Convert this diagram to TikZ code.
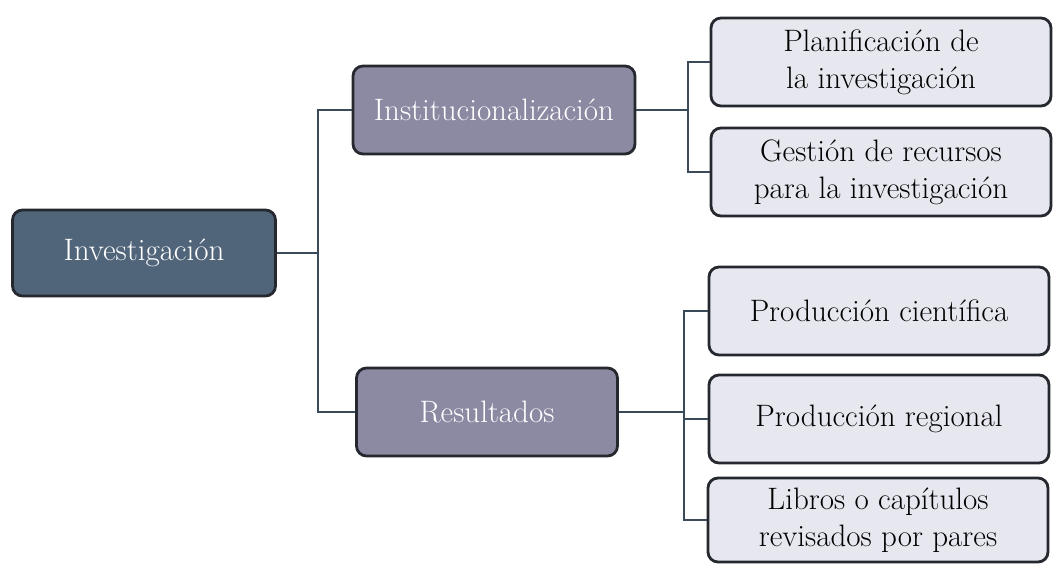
\documentclass[tikz,border=0pt]{standalone}
\usepackage{tikz}
\definecolor{slate}{HTML}{51657A}
\definecolor{lilac}{HTML}{8C89A3}
\definecolor{pale}{HTML}{E7E7F0}
\definecolor{rim}{HTML}{25282E}
\definecolor{wirecol}{HTML}{3A4A58}

\begin{document}
\begin{tikzpicture}[x=0.5pt,y=-0.5pt,
        box/.style={draw=rim,line width=1.4pt,rounded corners=5pt,align=center,
            font=\fontsize{15.5}{18.5}\selectfont,inner sep=0pt},
        rootbox/.style={box,fill=slate,text=white,minimum width=131.5pt,minimum height=43pt},
        midbox/.style={box,fill=lilac,text=white,minimum height=44pt},
        leafbox/.style={box,fill=pale,text=black,minimum width=170pt,minimum height=44pt},
        wire/.style={draw=wirecol,line width=1pt}]
        \useasboundingbox (0,0) rectangle (1053,564);
        \node[rootbox](inv) at (144,253) {Investigación};
        \node[midbox,minimum width=141pt](inst) at (494,110) {Institucionalización};
        \node[midbox,minimum width=130.5pt](res) at (487,412) {Resultados};
        \node[leafbox](plan) at (881,62) {Planificación de\\la investigación};
        \node[leafbox](gest) at (881,172) {Gestión de recursos\\para la investigación};
        \node[leafbox](cien) at (879,311) {Producción científica};
        \node[leafbox](reg) at (879,419) {Producción regional};
        \node[leafbox,minimum height=42pt](libr) at (878,520) {Libros o capítulos\\revisados por pares};
        \coordinate(j1) at (318,253);
        \coordinate(j2) at (688,110);
        \coordinate(j3) at (684,412);
        \draw[wire](inv)--(j1);
        \draw[wire](inst.west)-|(j1)|-(res.west);
        \draw[wire](inst)--(j2);
        \draw[wire](plan.west)-|(j2)|-(gest.west);
        \draw[wire](res)--(j3);
        \draw[wire](cien.west)-|(j3)|-(libr.west);
        \draw[wire](reg.west)--(reg.west-|j3);
    \end{tikzpicture}
\end{document}
